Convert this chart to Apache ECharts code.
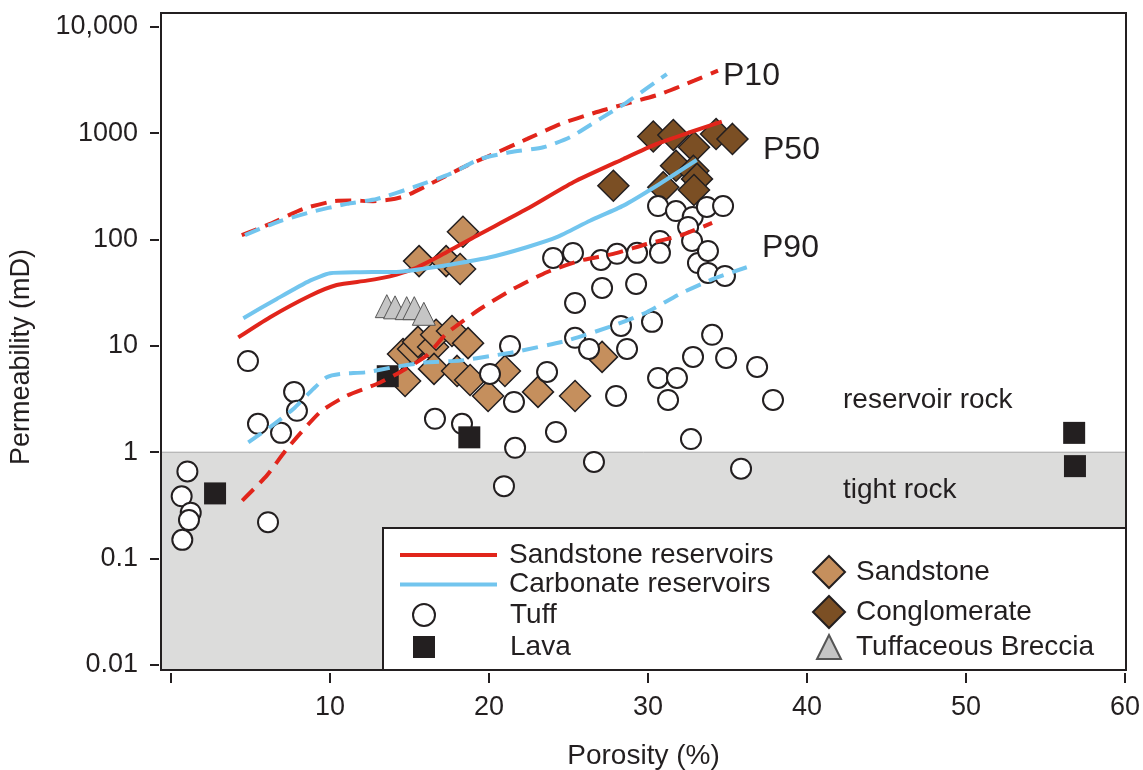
<!DOCTYPE html>
<html>
<head>
<meta charset="utf-8">
<script src="https://cdn.jsdelivr.net/npm/echarts@6/dist/echarts.min.js"></script>
<style>
  html, body { margin: 0; padding: 0; background: #fff; }
  #chart { width: 1143px; height: 770px; }
</style>
</head>
<body>
<div id="chart"></div>
<script>
// axis ticks
const porosityTicks = [0, 10, 20, 30, 40, 50, 60]
const porosityLabels = [10, 20, 30, 40, 50, 60]
const permTicks = [0.01, 0.1, 1, 10, 100, 1000, 10000]
const permTickLabels = ['0.01', '0.1', '1', '10', '100', '1000', '10,000']
const permMin = 0.00897
const permMax = 13450

// reservoir percentile curves [porosity %, permeability mD]
const sandstoneP10 = [[4.45,110],[6.23,140],[8.32,194],[10.2,229],[11.3,232],[12.7,229],[13.8,237],[14.8,258],[16.7,357],[18.6,494],[20.3,637],[22.4,881],[24.5,1218],[26.6,1545],[28.2,1811],[30.8,2333],[32.9,3110],[34.4,3860]]
const sandstoneP50 = [[4.23,12.0],[6.23,18.6],[8.74,29.6],[10.42,37.3],[12.31,41],[13.77,45],[15.24,52.8],[16.92,70.4],[19.23,108.6],[22.37,193],[25.3,345],[28.45,571],[30.55,790],[32.64,1018],[34.64,1280]]
const sandstoneP90 = [[4.48,0.351],[6.02,0.603],[7.28,1.07],[9.37,2.38],[11.05,3.4],[12.94,4.38],[14.4,5.65],[16.08,8.1],[17.34,13.1],[19.43,22.2],[21.53,34.3],[23.63,49.2],[25.72,63.2],[27.82,73.1],[29.92,90.7],[32.01,108.6],[34.03,143]]
const carbonateP10 = [[4.65,110],[6.65,145],[8.74,180],[11.05,216],[12.94,240],[15.24,310],[17.55,413],[19.43,571],[21.3,660],[23.42,736],[25.09,913],[26.98,1359],[28.66,1945],[31.18,3590]]
const carbonateP50 = [[4.55,18.2],[6.65,27.6],[8.74,41],[10.0,48.1],[11.89,49.2],[14.4,49.8],[17.13,56.7],[20.06,68],[22.37,84.5],[24.26,105],[26.35,150],[28.45,208],[30.55,320],[33.06,558]]
const carbonateP90 = [[4.86,1.24],[6.23,1.72],[7.69,2.55],[8.95,3.94],[9.79,5.07],[10.63,5.44],[12.31,5.65],[13.98,6.3],[16.08,7.0],[18.18,7.26],[20.27,8.1],[21.53,8.7],[24.89,11.2],[27.82,15.5],[29.92,20.7],[32.01,30.8],[34.11,42.6],[36.21,54.8]]

// samples [porosity %, permeability mD]
const tuff = [[0.67,0.385],[1.03,0.66],[1.24,0.27],[1.13,0.23],[0.71,0.15],[6.1,0.22],
  [4.84,7.2],[7.74,3.69],[7.92,2.45],[5.47,1.85],[6.92,1.52],
  [16.6,2.06],[18.3,1.85],[20.06,5.44],[21.32,9.98],[21.57,2.97],[21.64,1.1],[20.94,0.48],
  [23.65,5.68],[24.21,1.55],[24.03,67],[25.28,74.7],[25.41,25.3],[25.41,11.9],[26.29,9.35],[26.6,0.81],
  [27.04,64.1],[27.11,35],[28.05,73.3],[27.99,3.38],[28.3,15.4],[28.68,9.35],[29.31,74.8],[29.25,38.2],
  [30.25,16.8],[30.63,206],[30.75,96.8],[30.75,74.8],[30.63,4.99],[31.76,185],[31.82,4.99],[31.26,3.1],
  [32.81,163],[32.52,131],[32.77,96.8],[33.14,60],[33.7,202],[33.77,78],[33.77,48.5],[34.72,206],[34.84,45.4],
  [32.83,7.87],[32.7,1.33],[34.03,12.7],[34.91,7.7],[35.85,0.70],[36.86,6.33],[37.86,3.1]]
const lava = [[2.77,0.41],[13.63,5.18],[18.76,1.38],[56.8,1.52],[56.85,0.74]]
const sandstone = [[14.59,8.39],[15.22,9.35],[15.53,10.9],[16.48,9.77],[16.67,12.7],[17.67,13.8],[18.68,10.6],
  [14.72,4.68],[16.54,6.07],[17.99,5.81],[18.81,4.78],[19.94,3.38],[21.0,5.81],[23.08,3.69],[25.41,3.38],[27.11,7.87],
  [18.36,118],[15.6,62.6],[17.3,62.6],[18.18,52.7]]
const conglomerate = [[30.33,929],[31.59,960],[32.89,736],[34.28,981],[35.31,881],[31.76,494],[32.85,443],[33.08,371],[30.96,310],[32.89,292],[27.82,320]]
const breccia = [[13.57,23.6],[14.09,23],[14.82,22.6],[15.3,22.6],[15.9,20]]

const red = '#e1251b'
const blue = '#72c5ee'
const ink = '#231f20'
const font = 'Liberation Sans, Arial, sans-serif'

const toLog = pts => pts.map(([p, k]) => [p, Math.log10(k)])

const chart = echarts.init(document.getElementById('chart'))

const curve = (name, pts, color, dashed) => ({
    name: name,
    type: 'line',
    data: toLog(pts),
    symbol: 'none',
    smooth: 0.2,
    z: 3,
    lineStyle: { color: color, width: 4, type: dashed ? [16, 9] : 'solid' },
    itemStyle: { color: color },
})

const dots = (name, pts, symbol, size, fill, border, bw) => ({
    name: name,
    type: 'scatter',
    data: toLog(pts),
    symbol: symbol,
    symbolSize: size,
    z: 2,
    itemStyle: { color: fill, borderColor: border, borderWidth: bw, opacity: 1 },
})

const tuffSeries = dots('Tuff', tuff, 'circle', 20, '#ffffff', ink, 2)
tuffSeries.markArea = {
    silent: true,
    itemStyle: { color: '#dcdcdb', borderColor: '#a6a6a6', borderWidth: 1 },
    data: [[{ yAxis: 0 }, { yAxis: Math.log10(permMin) }]],
}

const legendText = pad => ({ fontSize: 28, color: ink, fontFamily: font, padding: [0, 0, 0, pad] })
const label = (text, x, y, size) => ({
    type: 'text', z: 5, x: x, y: y,
    style: { text: text, fontSize: size, fill: ink, fontFamily: font, align: 'left', verticalAlign: 'middle' },
})

const option = {
    animation: false,
    textStyle: { fontFamily: font },
    grid: {
        left: 161, top: 13, width: 965, height: 657,
        outerBoundsMode: 'none', containLabel: false,
        show: true, borderColor: ink, borderWidth: 2, backgroundColor: 'transparent', z: 6,
    },
    xAxis: {
        type: 'value',
        min: -0.63, max: 60.06,
        offset: 3,
        axisLine: { show: false, onZero: false },
        splitLine: { show: false },
        axisTick: { show: true, length: 10, customValues: porosityTicks, lineStyle: { color: ink, width: 2 } },
        axisLabel: { customValues: porosityLabels, margin: 21, fontSize: 27, color: ink },
        name: 'Porosity (%)',
        nameLocation: 'middle',
        nameGap: 69,
        nameTextStyle: { fontSize: 28, color: ink },
    },
    yAxis: {
        type: 'value',
        min: Math.log10(permMin), max: Math.log10(permMax),
        offset: 2,
        axisLine: { show: false, onZero: false },
        splitLine: { show: false },
        axisTick: { show: true, length: 9, customValues: permTicks.map(Math.log10), lineStyle: { color: ink, width: 2 } },
        axisLabel: {
            customValues: permTicks.map(Math.log10),
            margin: 21, fontSize: 27, color: ink, padding: [4, 0, 0, 0],
            formatter: v => {
                const i = permTicks.findIndex(t => Math.abs(Math.log10(t) - v) < 1e-6)
                return i >= 0 ? permTickLabels[i] : ''
            },
        },
    },
    legend: [
        {
            data: [
                { name: 'Sandstone reservoirs', icon: 'rect' },
                { name: 'Carbonate reservoirs', icon: 'rect' },
            ],
            orient: 'vertical', left: 400, top: 541, padding: 0, itemGap: 1.5,
            itemWidth: 97, itemHeight: 4, selectedMode: false, z: 5,
            textStyle: legendText(7),
        },
        {
            data: ['Tuff', 'Lava'],
            orient: 'vertical', left: 412, top: 601, padding: 0, itemGap: 4,
            itemWidth: 22, itemHeight: 22, selectedMode: false, z: 5,
            textStyle: legendText(70),
        },
        {
            data: ['Sandstone', 'Conglomerate'],
            orient: 'vertical', left: 812, top: 555, padding: 0, itemGap: 6,
            itemWidth: 32, itemHeight: 32, selectedMode: false, z: 5,
            textStyle: legendText(6),
        },
        {
            data: ['Tuffaceous Breccia'],
            orient: 'vertical', left: 816, top: 633, padding: 0,
            itemWidth: 24, itemHeight: 24, selectedMode: false, z: 5,
            textStyle: legendText(10),
        },
    ],
    graphic: [
        { type: 'rect', z: 3, shape: { x: 383, y: 528, width: 743, height: 142 },
          style: { fill: '#ffffff', stroke: ink, lineWidth: 2 } },
        { type: 'text', z: 5, x: 22, y: 357, rotation: Math.PI / 2,
          style: { text: 'Permeability (mD)', fontSize: 27, fill: ink, fontFamily: font, align: 'center', verticalAlign: 'middle' } },
        label('P10', 723, 76, 32),
        label('P50', 763, 150, 32),
        label('P90', 762, 248, 32),
        label('reservoir rock', 843, 400, 28),
        label('tight rock', 843, 490, 28),
    ],
    series: [
        dots('Sandstone', sandstone, 'diamond', 31, '#c58f5d', ink, 1.5),
        dots('Conglomerate', conglomerate, 'diamond', 31, '#7b4f24', ink, 1.5),
        tuffSeries,
        dots('Lava', lava, 'rect', 22, ink, ink, 0),
        dots('Tuffaceous Breccia', breccia, 'triangle', 23, '#c5c5c5', '#555555', 1),
        curve('Sandstone reservoirs', sandstoneP50, red, false),
        curve('Carbonate reservoirs', carbonateP50, blue, false),
        curve('Sandstone P10', sandstoneP10, red, true),
        curve('Sandstone P90', sandstoneP90, red, true),
        curve('Carbonate P10', carbonateP10, blue, true),
        curve('Carbonate P90', carbonateP90, blue, true),
    ],
}

chart.setOption(option)
</script>
</body>
</html>
